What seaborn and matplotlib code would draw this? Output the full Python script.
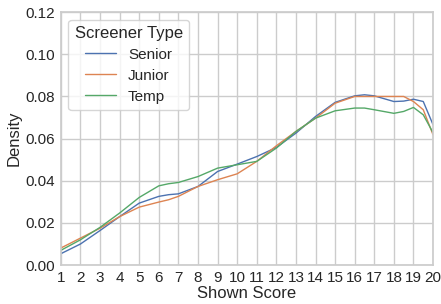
import numpy as np
import pandas as pd
import seaborn as sns
from matplotlib import pyplot as plt

# Density values at these scores
score = [1, 2, 3, 4, 5, 6, 6.5, 7, 8, 9, 10, 11, 12, 13, 14, 15, 16, 16.5, 17, 18, 18.5, 19, 19.5, 20]
senior = [0.0054, 0.0100, 0.0164, 0.0230, 0.0294, 0.0326, 0.0334, 0.0338, 0.0373, 0.0444, 0.0479, 0.0515,
          0.0558, 0.0626, 0.0705, 0.0772, 0.0803, 0.0808, 0.0803, 0.0776, 0.0778, 0.0787, 0.0776, 0.0666]
junior = [0.0081, 0.0128, 0.0175, 0.0230, 0.0275, 0.0299, 0.0310, 0.0326, 0.0373, 0.0405, 0.0433, 0.0492,
          0.0566, 0.0634, 0.0697, 0.0768, 0.0800, 0.0800, 0.0800, 0.0800, 0.0800, 0.0776, 0.0737, 0.0618]
temp = [0.0070, 0.0120, 0.0179, 0.0247, 0.0321, 0.0376, 0.0386, 0.0392, 0.0420, 0.0460, 0.0476, 0.0492,
        0.0555, 0.0634, 0.0697, 0.0732, 0.0745, 0.0745, 0.0737, 0.0720, 0.0729, 0.0748, 0.0713, 0.0628]
types = ["Senior", "Junior", "Temp"]
ticks = list(range(1, 21))

rows = []
for name, vals in zip(types, [senior, junior, temp]):
    for s, v in zip(score, vals):
        rows.append({"Shown Score": s, "Density": v, "Screener Type": name})
df = pd.DataFrame(rows)

sns.set_theme(style="whitegrid")
plt.rcParams['font.family'] = ['Liberation Sans', 'DejaVu Sans']
fig, ax = plt.subplots(figsize=(4.41, 3.04), dpi=100)
sns.lineplot(data=df, x="Shown Score", y="Density", hue="Screener Type",
             hue_order=types, linewidth=1, ax=ax)

ax.set_xlim(1, 20)
ax.set_ylim(0, 0.12)
ax.set_xticks(ticks)
ax.set_yticks(np.arange(0, 0.121, 0.02))
ax.tick_params(axis="both", labelsize=11, length=0, pad=4, colors="#262626")
ax.set_xlabel("Shown Score", fontsize=12, labelpad=1)
ax.set_ylabel("Density", fontsize=12, labelpad=3)
leg = ax.legend(title="Screener Type", loc="upper left", fontsize=11, title_fontsize=12,
                handlelength=2.0, labelspacing=0.45, borderaxespad=0.5)

fig.subplots_adjust(left=0.138, right=0.982, top=0.96, bottom=0.128)
plt.savefig("out.png")
plt.close()
